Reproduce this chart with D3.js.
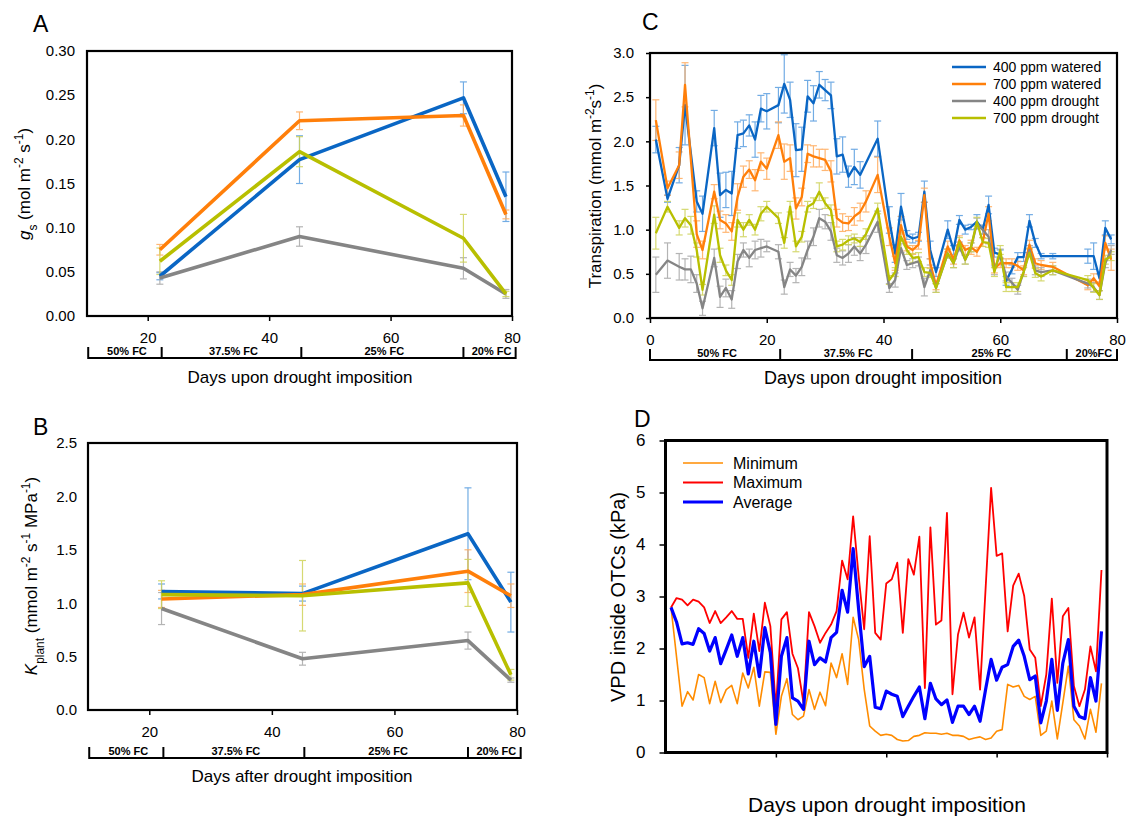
<!DOCTYPE html>
<html>
<head>
<meta charset="utf-8">
<script src="https://cdn.jsdelivr.net/npm/d3@7"></script>
<style>
  body { margin: 0; background: #fff; }
  text { font-family: "Liberation Sans", Arial, sans-serif; fill: #000; }
</style>
</head>
<body>
<svg id="chart" width="1130" height="823"></svg>
<script>
// ---- data: panels A and B (4 sampling days) ----
var daysAB = [22, 45, 72, 79];
var gsBlue = [0.045, 0.177, 0.247, 0.135], gsBlueErr = [0.004, 0.027, 0.018, 0.028];
var gsOrange = [0.075, 0.221, 0.227, 0.115], gsOrangeErr = [0.006, 0.010, 0.012, 0.005];
var gsGray = [0.043, 0.090, 0.054, 0.025], gsGrayErr = [0.007, 0.011, 0.012, 0.005];
var gsYellow = [0.062, 0.186, 0.088, 0.025], gsYellowErr = [0.015, 0.017, 0.027, 0.003];

var kBlue = [1.11, 1.09, 1.65, 1.01], kBlueErr = [0.07, 0.07, 0.43, 0.28];
var kOrange = [1.04, 1.08, 1.30, 1.07], kOrangeErr = [0.08, 0.10, 0.20, 0.11];
var kGray = [0.95, 0.48, 0.65, 0.28], kGrayErr = [0.15, 0.06, 0.08, 0.02];
var kYellow = [1.08, 1.07, 1.19, 0.33], kYellowErr = [0.13, 0.33, 0.22, 0.05];

// water regime stages (days)
var stageDaysAB = [10.2, 22.3, 45.3, 72, 80.6];
var stageLabelsAB = ["50% FC", "37.5% FC", "25% FC", "20% FC"];
var stageDaysC = [0, 22.3, 44.9, 71.4, 80];
var stageLabelsC = ["50% FC", "37.5% FC", "25% FC", "20%FC"];

// ---- data: panel C (transpiration) ----
var daysC = [1,3,5,6,7,8,9, 11,12,13,14,15,16,17,18,19,20,
  22,23,24,25,26,27,28,29,30,31,32,33,34,35,36,37, 39,
  41,42,43,44,45,46,47,48,49, 51,52,53,54,55,56,57,58,59,60,61,62,63,64,65,66,67,
  69, 75,76,77,78,79];
var trBlue = [2.02,1.35,1.73,2.41,null,1.32,1.18, 2.15,1.39,1.45,1.41,2.07,2.09,2.18,2.02,2.37,2.34,
  2.41,2.65,2.47,1.90,1.91,2.51,2.43,2.64,2.58,2.52,1.83,1.85,1.60,1.71,1.62,null, 2.03,
  1.11,0.73,1.26,0.94,0.90,0.92,1.43,0.77,0.52, 1.00,0.77,1.11,1.00,1.03,1.09,1.00,1.28,0.74,0.72,0.42,0.55,0.69,0.69,1.10,0.85,0.70,
  0.70, 0.70,0.70,0.45,1.02,0.89];
var trBlueErr = [0.15,0.04,0.2,0.45,0,0.12,0.2, 0.2,0.25,0.2,0.25,0.15,0.15,0.12,0.2,0.15,0.2,
  0.2,0.33,0.2,0.3,0.25,0.18,0.2,0.15,0.12,0.15,0.2,0.2,0.12,0.2,0.15,0, 0.2,
  0.15,0.1,0.15,0.05,0.05,0.05,0.12,0.1,0.05, 0.1,0.05,0.05,0.05,0.03,0.08,0.05,0.1,0.05,0.05,0.05,0.05,0.05,0.05,0.07,0.05,0.03,
  0.03, 0.08,0.15,0.05,0.08,0.05];
var trOrange = [2.24,1.47,1.73,2.64,null,0.95,0.77, 1.43,1.11,1.07,0.98,1.37,1.60,1.68,1.56,1.77,1.69,
  2.07,1.77,1.81,1.24,1.37,1.86,1.83,1.81,1.79,1.66,1.13,1.08,1.07,1.15,1.20,1.32, 1.62,
  0.92,0.62,1.05,0.81,0.77,0.83,1.39,0.62,0.37, 0.81,0.66,0.88,0.77,0.80,0.75,0.86,1.18,0.56,0.62,0.62,0.62,0.59,0.54,0.83,0.62,0.60,
  0.58, 0.37,0.45,0.36,0.85,0.66];
var trOrangeErr = [0.23,0.08,0.15,0.25,0,0.15,0.1, 0.08,0.1,0.1,0.1,0.15,0.12,0.1,0.12,0.1,0.12,
  0.15,0.2,0.15,0.12,0.1,0.1,0.12,0.1,0.12,0.12,0.1,0.1,0.08,0.1,0.1,0.12, 0.2,
  0.1,0.08,0.1,0.05,0.05,0.05,0.08,0.05,0.05, 0.06,0.05,0.05,0.05,0.08,0.05,0.05,0.08,0.05,0.05,0.05,0.05,0.05,0.05,0.05,0.05,0.05,
  0.05, 0.05,0.05,0.05,0.08,0.12];
var trGray = [0.49,0.65,0.58,0.55,0.55,0.39,0.11, 0.68,0.24,0.34,0.21,0.64,0.77,0.68,0.77,0.79,0.81,
  0.75,0.35,0.55,0.48,0.58,0.77,0.92,1.13,1.09,0.98,0.71,0.68,0.73,0.81,0.73,0.83, 1.09,
  0.34,0.43,0.79,0.60,0.62,0.64,0.35,0.54,0.34, 0.73,0.62,0.81,0.66,0.80,1.07,1.00,0.92,0.54,0.73,0.47,0.40,0.32,0.52,0.77,0.54,0.52,
  0.54, 0.39,0.35,0.26,0.62,0.77];
var trGrayErr = [0.2,0.2,0.15,0.12,0.15,0.1,0.08, 0.1,0.12,0.1,0.1,0.08,0.08,0.1,0.1,0.1,0.06,
  0.08,0.08,0.08,0.08,0.1,0.1,0.1,0.1,0.08,0.1,0.08,0.08,0.1,0.1,0.08,0.1, 0.12,
  0.05,0.08,0.05,0.05,0.05,0.05,0.1,0.06,0.05, 0.05,0.05,0.05,0.05,0.05,0.06,0.05,0.08,0.05,0.05,0.05,0.05,0.05,0.05,0.05,0.05,0.05,
  0.05, 0.05,0.05,0.05,0.05,0.05];
var trYellow = [0.96,1.26,1.02,1.13,1.05,0.77,0.32, 1.17,0.71,0.54,0.43,1.11,1.00,1.11,1.00,1.18,1.26,
  1.13,0.85,1.26,0.81,0.92,1.26,1.30,1.43,1.30,1.22,0.81,0.83,0.88,0.90,0.86,0.95, 1.24,
  0.43,0.52,0.92,0.77,0.68,0.69,0.52,0.51,0.34, 0.73,0.62,0.86,0.66,0.80,1.09,0.86,0.85,0.52,0.77,0.35,0.35,0.35,0.52,0.74,0.51,0.47,
  0.54, 0.43,0.34,0.26,0.66,0.70];
var trYellowErr = [0.18,0.06,0.08,0.1,0.1,0.08,0.06, 0.1,0.08,0.06,0.06,0.08,0.08,0.06,0.06,0.08,0.06,
  0.06,0.06,0.06,0.06,0.06,0.06,0.06,0.1,0.06,0.06,0.06,0.06,0.05,0.05,0.05,0.06, 0.06,
  0.05,0.05,0.05,0.05,0.05,0.05,0.05,0.05,0.05, 0.05,0.05,0.05,0.05,0.05,0.05,0.05,0.05,0.05,0.05,0.05,0.05,0.05,0.05,0.05,0.05,0.05,
  0.05, 0.05,0.05,0.05,0.05,0.05];
var treatmentNames = ["400 ppm watered", "700 ppm watered", "400 ppm drought", "700 ppm drought"];

// ---- data: panel D (VPD, daily) ----
var daysD = d3.range(1, 80);
var vpdMax = [2.79,2.97,2.94,2.83,2.94,2.90,2.79,2.49,2.72,2.49,
  2.60,2.72,2.57,2.57,1.82,2.67,1.95,2.88,2.43,0.85,
  2.56,2.70,1.90,1.62,0.96,2.70,2.43,2.11,2.30,2.46,
  2.72,3.69,3.33,4.54,3.39,2.37,4.16,2.30,2.17,3.25,
  3.33,3.65,2.30,3.72,3.42,4.15,1.24,4.33,2.46,2.54,
  4.61,1.12,2.27,2.69,2.21,2.60,1.21,null,5.09,3.78,
  3.83,2.33,3.21,3.44,3.01,1.98,1.82,0.89,1.50,2.96,
  1.34,2.62,2.78,1.28,0.89,1.21,2.04,1.56,3.51];
var vpdAvg = [2.79,2.51,2.09,2.11,2.08,2.38,2.29,1.95,2.21,1.71,
  1.98,2.26,1.85,2.21,1.51,2.14,1.46,2.40,1.92,0.54,
  1.85,2.21,1.05,0.99,0.83,2.14,1.69,1.82,1.74,2.21,
  2.31,3.12,2.70,3.92,2.75,1.65,1.85,0.87,0.84,1.18,
  1.12,1.08,0.69,0.89,1.08,1.26,0.65,1.33,1.03,0.92,
  1.01,0.58,0.89,0.89,0.73,0.89,0.60,1.21,1.79,1.39,
  1.64,1.69,2.04,2.16,1.85,1.40,1.47,0.57,0.99,1.79,
  0.81,1.72,2.17,0.89,0.69,0.65,1.44,0.99,2.33];
var vpdMin = [2.79,null,0.89,1.17,1.01,1.50,1.44,0.94,1.37,0.96,
  1.21,1.29,0.94,1.53,1.24,1.64,0.89,1.55,1.54,0.35,
  1.08,1.42,0.73,0.63,0.70,1.21,0.83,1.16,0.90,1.72,
  1.44,1.90,1.31,2.60,2.17,1.22,0.51,0.41,0.33,0.35,
  0.33,0.25,0.22,0.23,0.31,0.33,0.38,0.37,0.37,0.35,
  0.37,0.33,0.33,0.31,0.25,0.28,0.30,0.25,0.28,0.41,
  0.44,1.31,1.26,1.29,1.08,1.02,1.08,0.33,0.41,0.99,
  0.26,0.96,1.66,0.63,0.51,0.26,0.83,0.39,1.33];
var vpdNames = ["Minimum", "Maximum", "Average"];

// ---- colours ----
var cBlue = "#0a66c4", cOrange = "#ff7f0a", cGray = "#858585", cYellow = "#b8bf00";
var eBlue = "#5a9ee0", eOrange = "#ffab5c", eGray = "#a8a8a8", eYellow = "#cfd35a";

var svg = d3.select("#chart");
svg.append("rect").attr("width", 1130).attr("height", 823).attr("fill", "#fff");

function richText(parts, attrs) {
    var t = svg.append("text");
    for (var k in attrs) t.attr(k, attrs[k]);
    parts.forEach(function(p) {
        var s = t.append("tspan").text(p[0]);
        if (p[1] == "sup") s.attr("baseline-shift", "super").attr("font-size", "70%");
        if (p[1] == "sub") s.attr("baseline-shift", "sub").attr("font-size", "70%");
        if (p[1] == "it") s.attr("font-style", "italic");
    });
    return t;
}

function frame(xs, ys, sw) {
    svg.append("rect")
        .attr("x", xs.range()[0]).attr("y", ys.range()[1])
        .attr("width", xs.range()[1] - xs.range()[0])
        .attr("height", ys.range()[0] - ys.range()[1])
        .attr("fill", "none").attr("stroke", "#000").attr("stroke-width", sw);
}

function axes(xs, ys, o) {
    var gy = svg.append("g")
        .attr("transform", "translate(" + xs.range()[0] + ",0)")
        .call(d3.axisLeft(ys).tickValues(o.yTicks).tickFormat(o.yFmt)
            .tickSize(o.yTickSize).tickPadding(o.yPad));
    gy.select(".domain").remove();
    gy.selectAll("line").attr("stroke-width", 1.5);
    gy.selectAll("text").attr("font-size", o.fs).attr("font-family", null);

    var gx = svg.append("g")
        .attr("transform", "translate(0," + ys.range()[0] + ")")
        .call(d3.axisBottom(xs).tickValues(o.xTicks).tickFormat(o.xFmt)
            .tickSize(5).tickPadding(o.xPad));
    gx.select(".domain").remove();
    gx.selectAll("line").attr("stroke-width", 1.5);
    gx.selectAll("text").attr("font-size", o.fs).attr("font-family", null);
}

function points(days, vals, errs) {
    return days.map(function(d, i) {
        return {x: d, y: vals[i], e: errs ? errs[i] : 0};
    }).filter(function(p) { return p.y != null; });
}

function errorBars(xs, ys, pts, color, cap) {
    var g = svg.append("g").attr("stroke", color).attr("stroke-width", 1.2).attr("opacity", 0.85);
    pts.filter(function(p) { return p.e > 0; }).forEach(function(p) {
        var x = xs(p.x), y1 = ys(p.y - p.e), y2 = ys(p.y + p.e);
        g.append("line").attr("x1", x).attr("x2", x).attr("y1", y1).attr("y2", y2);
        g.append("line").attr("x1", x - cap).attr("x2", x + cap).attr("y1", y1).attr("y2", y1);
        g.append("line").attr("x1", x - cap).attr("x2", x + cap).attr("y1", y2).attr("y2", y2);
    });
}

function trace(xs, ys, pts, color, lw) {
    svg.append("path").datum(pts)
        .attr("d", d3.line().x(function(p) { return xs(p.x); }).y(function(p) { return ys(p.y); }))
        .attr("fill", "none").attr("stroke", color).attr("stroke-width", lw)
        .attr("stroke-linejoin", "round");
}

function stages(xs, yLine, bounds, labels) {
    var g = svg.append("g");
    g.append("line").attr("x1", xs(bounds[0])).attr("x2", xs(bounds[bounds.length - 1]))
        .attr("y1", yLine).attr("y2", yLine).attr("stroke", "#000").attr("stroke-width", 2);
    bounds.forEach(function(b) {
        g.append("line").attr("x1", xs(b)).attr("x2", xs(b)).attr("y1", yLine - 11).attr("y2", yLine + 1)
            .attr("stroke", "#000").attr("stroke-width", 2);
    });
    labels.forEach(function(l, i) {
        g.append("text").attr("x", (xs(bounds[i]) + xs(bounds[i + 1])) / 2 + 2).attr("y", yLine - 3)
            .attr("text-anchor", "middle").attr("font-size", 11).attr("font-weight", "bold").text(l);
    });
}

function panelLetter(l, x, y) {
    svg.append("text").attr("x", x).attr("y", y).attr("font-size", 23).text(l);
}

// ---------- Panel A ----------
var xA = d3.scaleLinear().domain([10, 80]).range([87, 512]);
var yA = d3.scaleLinear().domain([0, 0.30]).range([316, 51]);
axes(xA, yA, {yTicks: d3.range(0, 0.31, 0.05), yFmt: d3.format(".2f"), yTickSize: 0, yPad: 12,
    xTicks: [20, 40, 60, 80], xFmt: d3.format("d"), xPad: 11, fs: 15});
var gsSets = [[gsBlue, gsBlueErr, cBlue, eBlue], [gsOrange, gsOrangeErr, cOrange, eOrange],
    [gsGray, gsGrayErr, cGray, eGray], [gsYellow, gsYellowErr, cYellow, eYellow]];
gsSets.forEach(function(s) { errorBars(xA, yA, points(daysAB, s[0], s[1]), s[3], 3.5); });
gsSets.forEach(function(s) { trace(xA, yA, points(daysAB, s[0]), s[2], 3.6); });
frame(xA, yA, 2.2);
stages(xA, 358, stageDaysAB, stageLabelsAB);
svg.append("text").attr("x", 300).attr("y", 383).attr("text-anchor", "middle").attr("font-size", 17)
    .text("Days upon drought imposition");
richText([["g", "it"], ["s", "sub"], [" (mol m"], ["-2", "sup"], [" s"], ["-1", "sup"], [")"]],
    {transform: "translate(30,184) rotate(-90)", "text-anchor": "middle", "font-size": 17});
panelLetter("A", 33, 32);

// ---------- Panel B ----------
var xB = d3.scaleLinear().domain([10, 80]).range([88, 517]);
var yB = d3.scaleLinear().domain([0, 2.5]).range([710, 443]);
axes(xB, yB, {yTicks: d3.range(0, 2.51, 0.5), yFmt: d3.format(".1f"), yTickSize: 0, yPad: 11,
    xTicks: [20, 40, 60, 80], xFmt: d3.format("d"), xPad: 11, fs: 15});
var kSets = [[kBlue, kBlueErr, cBlue, eBlue], [kOrange, kOrangeErr, cOrange, eOrange],
    [kGray, kGrayErr, cGray, eGray], [kYellow, kYellowErr, cYellow, eYellow]];
kSets.forEach(function(s) { errorBars(xB, yB, points(daysAB, s[0], s[1]), s[3], 3.5); });
kSets.forEach(function(s) { trace(xB, yB, points(daysAB, s[0]), s[2], 3.6); });
frame(xB, yB, 2.2);
stages(xB, 758, stageDaysAB, stageLabelsAB);
svg.append("text").attr("x", 302).attr("y", 782).attr("text-anchor", "middle").attr("font-size", 17)
    .text("Days after drought imposition");
richText([["K", "it"], ["plant", "sub"], [" (mmol m"], ["-2", "sup"], [" s"], ["-1", "sup"], [" MPa"], ["-1", "sup"], [")"]],
    {transform: "translate(37,576) rotate(-90)", "text-anchor": "middle", "font-size": 17});
panelLetter("B", 33, 435);

// ---------- Panel C ----------
var xC = d3.scaleLinear().domain([0, 80]).range([650, 1117]);
var yC = d3.scaleLinear().domain([0, 3]).range([318, 53]);
axes(xC, yC, {yTicks: d3.range(0, 3.01, 0.5), yFmt: d3.format(".1f"), yTickSize: 4, yPad: 12,
    xTicks: [0, 20, 40, 60, 80], xFmt: d3.format("d"), xPad: 11, fs: 15});
var trSets = [[trBlue, trBlueErr, cBlue, eBlue], [trOrange, trOrangeErr, cOrange, eOrange],
    [trGray, trGrayErr, cGray, eGray], [trYellow, trYellowErr, cYellow, eYellow]];
trSets.forEach(function(s) { errorBars(xC, yC, points(daysC, s[0], s[1]), s[3], 3.5); });
trSets.forEach(function(s) { trace(xC, yC, points(daysC, s[0]), s[2], 2.3); });
frame(xC, yC, 2.2);
stages(xC, 360, stageDaysC, stageLabelsC);
svg.append("text").attr("x", 883).attr("y", 384).attr("text-anchor", "middle").attr("font-size", 18)
    .text("Days upon drought imposition");
richText([["Transpiration (mmol m"], ["-2", "sup"], ["s"], ["-1", "sup"], [")"]],
    {transform: "translate(601,186) rotate(-90)", "text-anchor": "middle", "font-size": 17});
panelLetter("C", 642, 30);
var legC = svg.append("g");
treatmentNames.forEach(function(n, i) {
    var y = 67 + i * 17;
    legC.append("line").attr("x1", 952).attr("x2", 986).attr("y1", y).attr("y2", y)
        .attr("stroke", trSets[i][2]).attr("stroke-width", 2.3);
    legC.append("text").attr("x", 993).attr("y", y).attr("dy", "0.35em").attr("font-size", 14).text(n);
});

// ---------- Panel D ----------
var xD = d3.scaleLinear().domain([0, 80]).range([665.5, 1107]);
var yD = d3.scaleLinear().domain([0, 6]).range([752.5, 440.5]);
axes(xD, yD, {yTicks: d3.range(0, 7, 1), yFmt: d3.format("d"), yTickSize: 6, yPad: 14,
    xTicks: [20, 40, 60, 80], xFmt: function() { return ""; }, xPad: 4, fs: 17});
var vpdSets = [[vpdMin, "#ff8c00", 1.6], [vpdMax, "#ff0000", 1.8], [vpdAvg, "#0000ff", 3.2]];
vpdSets.forEach(function(s) { trace(xD, yD, points(daysD, s[0]), s[1], s[2]); });
frame(xD, yD, 3);
svg.append("text").attr("x", 887).attr("y", 812).attr("text-anchor", "middle").attr("font-size", 21)
    .text("Days upon drought imposition");
svg.append("text").attr("transform", "translate(625,597) rotate(-90)").attr("text-anchor", "middle")
    .attr("font-size", 20).text("VPD inside OTCs (kPa)");
panelLetter("D", 634, 427);
var legD = svg.append("g");
vpdNames.forEach(function(n, i) {
    var y = 463 + i * 19.5;
    legD.append("line").attr("x1", 683).attr("x2", 723).attr("y1", y).attr("y2", y)
        .attr("stroke", vpdSets[i][1]).attr("stroke-width", vpdSets[i][2]);
    legD.append("text").attr("x", 733).attr("y", y).attr("dy", "0.35em").attr("font-size", 16).text(n);
});
</script>
</body>
</html>
